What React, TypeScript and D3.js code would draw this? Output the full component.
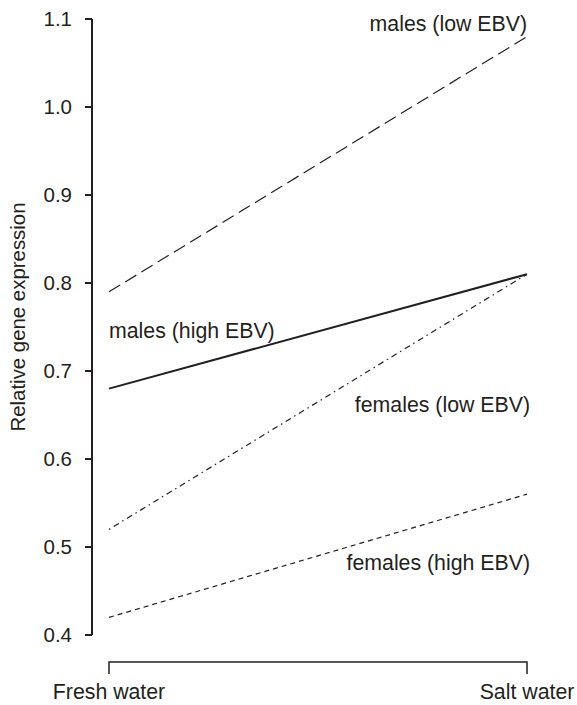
import React from 'react';
import { scaleLinear, scalePoint, line } from 'd3';

// conditions on the x axis
const conditions = ['Fresh water', 'Salt water'];

// series values (fresh, salt)
const malesLow = [0.79, 1.08];
const malesHigh = [0.68, 0.81];
const femalesLow = [0.52, 0.81];
const femalesHigh = [0.42, 0.56];

const yTicks = [0.4, 0.5, 0.6, 0.7, 0.8, 0.9, 1.0, 1.1];

const W = 577;
const H = 705;
const INK = '#231f20';
const FONT = 'Liberation Sans, Arial, Helvetica, sans-serif';
const FS = 21.3;

export default function App() {
  const y = scaleLinear().domain([0.4, 1.1]).range([635, 19]);
  const x = scalePoint<string>().domain(conditions).range([109, 527]);
  const axisX = 92;
  const bracketY = 662;

  const series = [
    { name: 'males (low EBV)', values: malesLow, dash: '13,6', width: 1.2, label: { at: 1, v: 1.0864, anchor: 'end', dx: 0 } },
    { name: 'males (high EBV)', values: malesHigh, dash: null, width: 2, label: { at: 0, v: 0.7375, anchor: 'start', dx: 0 } },
    { name: 'females (low EBV)', values: femalesLow, dash: '1.5,4,6,4', width: 1.2, label: { at: 1, v: 0.6534, anchor: 'end', dx: 3 } },
    { name: 'females (high EBV)', values: femalesHigh, dash: '5,4', width: 1.2, label: { at: 1, v: 0.4739, anchor: 'end', dx: 3 } },
  ];

  const path = line<number>()
    .x((_, i) => x(conditions[i]) as number)
    .y(d => y(d));

  return (
    <svg width={W} height={H} style={{ position: 'absolute', left: 0, top: 0, background: '#fff' }}
      fontFamily={FONT}>
      {/* y axis */}
      <line x1={axisX} x2={axisX} y1={y(1.1)} y2={y(0.4)} stroke={INK} strokeWidth={2} />
      {yTicks.map(t => (
        <g key={t}>
          <line x1={axisX - 7} x2={axisX} y1={y(t)} y2={y(t)} stroke={INK} strokeWidth={2} />
          <text x={72} y={y(t)} dy="0.36em" textAnchor="end" fontSize={20.5} fill={INK}>
            {t.toFixed(1)}
          </text>
        </g>
      ))}
      <text transform={`translate(25,317) rotate(-90)`} textAnchor="middle" fontSize={20.4} fill={INK}>
        Relative gene expression
      </text>

      {/* x bracket */}
      <path
        d={`M${x(conditions[0])},${bracketY + 12}V${bracketY}H${x(conditions[1])}V${bracketY + 12}`}
        fill="none" stroke={INK} strokeWidth={1.5} />
      {conditions.map(c => (
        <text key={c} x={x(c)} y={699} textAnchor="middle" fontSize={FS} fill={INK}>{c}</text>
      ))}

      {/* series */}
      {series.map(s => (
        <g key={s.name}>
          <path d={path(s.values) || ''} fill="none" stroke={INK} strokeWidth={s.width}
            strokeDasharray={s.dash || undefined} />
          <text x={(x(conditions[s.label.at]) as number) + s.label.dx} y={y(s.label.v)}
            textAnchor={s.label.anchor as any} fontSize={FS} fill={INK}>
            {s.name}
          </text>
        </g>
      ))}
    </svg>
  );
}
